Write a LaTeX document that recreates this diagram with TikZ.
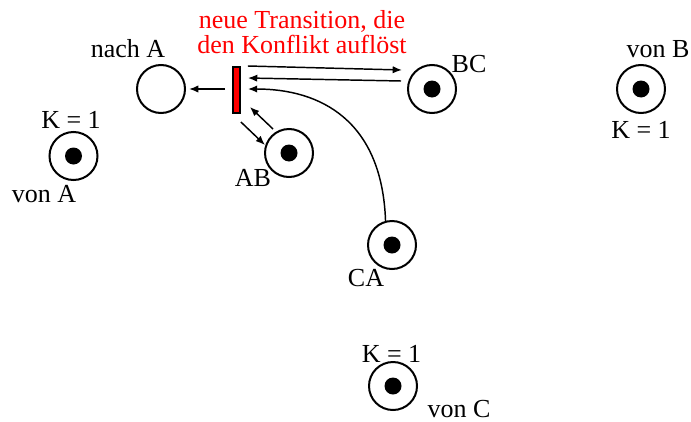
\documentclass[tikz,border=0pt]{standalone}
\usepackage{fontspec}
\setmainfont{Liberation Serif}
\usepackage{tikz}
\usetikzlibrary{arrows.meta, positioning}

\begin{document}
\begin{tikzpicture}[
  x=0.75pt, y=-0.75pt,
  place/.style={circle, draw, line width=1.5pt, minimum size=36pt, inner sep=0pt},
  token/.style={circle, fill, minimum size=12.75pt, inner sep=0pt},
  trans/.style={rectangle, draw, fill=red, line width=1.3pt, minimum width=5.3pt,
                minimum height=34.5pt, inner sep=0pt},
  lbl/.style={font=\fontsize{19.5}{18.75}\selectfont, inner sep=0pt, anchor=base},
  arr/.style={-{Latex[length=7pt, width=5.5pt]}, line width=1.1pt}
]
\useasboundingbox (0,0) rectangle (691,421);

\node[place] (nachA) at (161,89)   {};
\node[trans] (tr)    at (236.5,90) {};
\node[place] (bc)    at (432,89)   {};
\node[place] (ab)    at (289,153)  {};
\node[place] (vonA)  at (73.5,156) {};
\node[place] (ca)    at (392,245)  {};
\node[place] (vonC)  at (393,386)  {};
\node[place] (vonB)  at (641,89)   {};
\foreach \p in {bc,ab,vonA,ca,vonC,vonB}
  \node[token] (\p-tok) at (\p) {};

\node[lbl] (l-nachA) at (128,57)  {nach A};
\node[lbl, text=red, align=center, anchor=center] (l-note) at (302,32.5)
  {neue Transition, die\\den Konflikt auflöst};
\node[lbl] (l-bc)    at (469,72)  {BC};
\node[lbl] (l-ab)    at (253,186) {AB};
\node[lbl] (l-kA)    at (71,128)  {K = 1};
\node[lbl] (l-vonA)  at (44,202)  {von A};
\node[lbl] (l-ca)    at (366,286) {CA};
\node[lbl] (l-kC)    at (391.5,362) {K = 1};
\node[lbl] (l-vonC)  at (459,417) {von C};
\node[lbl] (l-vonB)  at (658,57)  {von B};
\node[lbl] (l-kB)    at (641,138) {K = 1};

\draw[arr] ([shift={(-7,-1)}]tr.west) -- ([shift={(3,0)}]nachA.east);
\draw[arr] ([shift={(7,-24)}]tr.east) -- ([shift={(-30,-19)}]bc.center);
\draw[arr] ([shift={(-31,-8)}]bc.center) -- ([shift={(7,-12)}]tr.east);
\draw[arr] (ca.105) .. controls ([shift={(-10,-125)}]ca.center) and ([shift={(-72,-156)}]ca.center)
  .. ([shift={(7,-1)}]tr.east);
\draw[arr] ([shift={(-16,-24)}]ab.center) -- ([shift={(9,17)}]tr.east);
\draw[arr] ([shift={(0,32)}]tr.east) -- ([shift={(-24,-8)}]ab.center);
\end{tikzpicture}
\end{document}
